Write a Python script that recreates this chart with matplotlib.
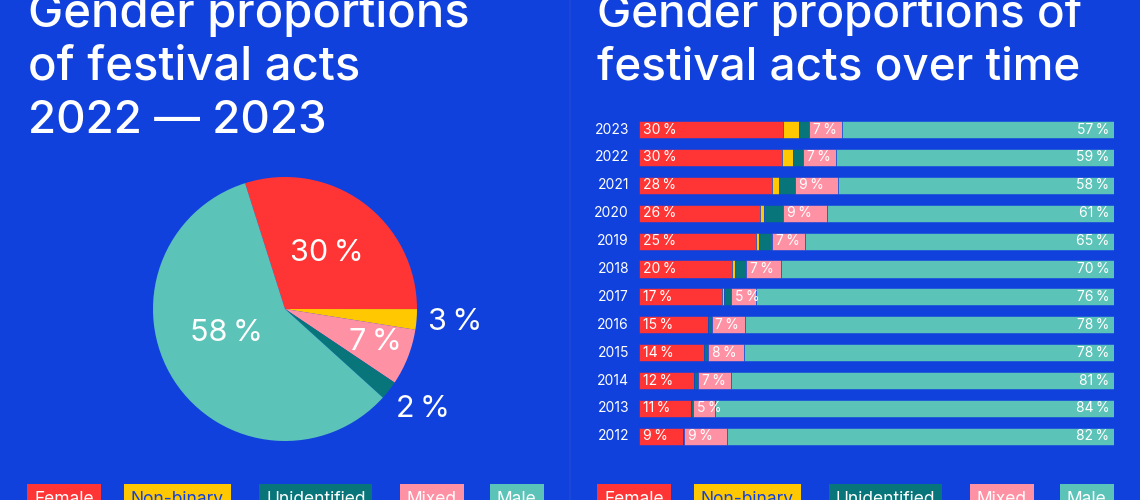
import matplotlib
matplotlib.use("Agg")
import matplotlib.pyplot as plt
import numpy as np

# ---------------- data ----------------
categories = ["Female", "Non-binary", "Unidentified", "Mixed", "Male"]

# pie (2022-2023), drawn clockwise in this order
pie_order = ["Female", "Non-binary", "Mixed", "Unidentified", "Male"]
pie_values = [29.9, 2.5, 6.9, 2.3, 58.4]
pie_labels = ["30\u2009%", "3\u2009%", "7\u2009%", "2\u2009%", "58\u2009%"]

years = ["2023", "2022", "2021", "2020", "2019", "2018", "2017",
         "2016", "2015", "2014", "2013", "2012"]
female = [30.4, 30.2, 28.0, 25.4, 24.6, 19.5, 17.5, 14.5, 13.6, 11.5, 11.0, 9.2]
nonbinary = [3.2, 2.2, 1.4, 1.0, 0.6, 0.7, 0.4, 0.0, 0.0, 0.0, 0.0, 0.0]
unidentified = [2.2, 2.1, 3.4, 4.0, 2.9, 2.3, 1.5, 0.8, 0.9, 1.0, 0.4, 0.3]
mixed = [7.0, 6.9, 9.1, 9.1, 6.8, 7.4, 5.3, 7.1, 7.7, 6.8, 4.6, 9.0]
male = [57.2, 58.6, 58.1, 60.5, 65.1, 70.1, 75.3, 77.6, 77.8, 80.7, 84.0, 81.5]
female_lbl = ["30", "30", "28", "26", "25", "20", "17", "15", "14", "12", "11", "9"]
mixed_lbl = ["7", "7", "9", "9", "7", "7", "5", "7", "8", "7", "5", "9"]
male_lbl = ["57", "59", "58", "61", "65", "70", "76", "78", "78", "81", "84", "82"]

# ---------------- style ----------------
BG = "#1141DD"
COL = {"Female": "#FF3535", "Non-binary": "#FFC800", "Unidentified": "#08757A",
       "Mixed": "#FF91A4", "Male": "#5CC3B8"}
FONT = ["Inter", "DejaVu Sans"]
plt.rcParams["font.family"] = FONT

W, H = 1140, 500
fig = plt.figure(figsize=(W / 100, H / 100), dpi=100, facecolor=BG)


def fx(px):
    return px / W


def fy(py):
    return 1 - py / H


def axes_px(left, top, width, height):
    return fig.add_axes([fx(left), fy(top + height), width / W, height / H])


# divider
fig.add_artist(plt.Line2D([fx(569.5), fx(569.5)], [0, 1], color="#1C49D8", lw=1.2,
                          transform=fig.transFigure))

# titles
title_kw = dict(color="white", fontweight="medium", va="baseline",
                ha="left", transform=fig.transFigure)
left_title = ["Gender proportions", "of festival acts", "2022 \u2014 2023"]
left_sizes = [34, 34, 33]
for i, (line, fs) in enumerate(zip(left_title, left_sizes)):
    fig.text(fx(28), fy(27 + 53 * i), line, fontsize=fs, **title_kw)
for i, line in enumerate(["Gender proportions of", "festival acts over time"]):
    fig.text(fx(597), fy(27 + 53 * i), line, fontsize=33, **title_kw)

# ---------------- pie ----------------
R = 132
cx, cy = 285, 309
axp = axes_px(cx - R, cy - R, 2 * R, 2 * R)
axp.set_facecolor("none")
wedges, _ = axp.pie(pie_values, colors=[COL[c] for c in pie_order], startangle=107.6,
                    counterclock=False, radius=1,
                    wedgeprops=dict(linewidth=0, antialiased=True))
axp.set_xlim(-1, 1)
axp.set_ylim(-1, 1)
axp.set_aspect("equal")
axp.axis("off")
label_r = [0.53, 1.29, 0.73, 1.29, 0.48]
angle_adj = [0, 0, 1.2, 2.0, -10]
for w, lab, r, da in zip(wedges, pie_labels, label_r, angle_adj):
    ang = np.deg2rad((w.theta1 + w.theta2) / 2 + da)
    axp.text(r * np.cos(ang), r * np.sin(ang), lab, color="white", fontsize=22,
             ha="center", va="center")

# ---------------- stacked bars ----------------
bx0, bx1 = 639, 1114
row0, step = 129.5, 27.9
axb = axes_px(bx0, row0 - step / 2, bx1 - bx0, step * len(years))
axb.set_facecolor("none")
n = len(years)
y = np.arange(n)
left = np.zeros(n)
series = [female, nonbinary, unidentified, mixed, male]
starts = {}
for name, vals in zip(categories, series):
    vals = np.array(vals)
    starts[name] = left.copy()
    axb.barh(y, vals, left=left, height=0.61, color=COL[name],
             edgecolor=BG, linewidth=0.4)
    left = left + vals
axb.set_xlim(0, left.max())
axb.set_ylim(n - 0.5, -0.5)
axb.axis("off")

txt_kw = dict(color="white", fontsize=10, va="center")
for i in range(n):
    axb.text(-2.1, i, years[i], ha="right", **txt_kw)
    axb.text(starts["Female"][i] + 0.8, i, female_lbl[i] + "\u2009%", ha="left", **txt_kw)
    axb.text(starts["Mixed"][i] + 0.8, i, mixed_lbl[i] + "\u2009%", ha="left", **txt_kw)
    axb.text(left[i] - 1.0, i, male_lbl[i] + "\u2009%", ha="right", **txt_kw)

# ---------------- legends (bottom, partly cut) ----------------
leg_x = [34, 131, 266, 407, 497]
for off in (0, 570):
    for name, lx in zip(categories, leg_x):
        tc = BG if name == "Non-binary" else "white"
        fig.text(fx(lx + off), fy(504), name, color=tc, fontsize=12.5,
                 ha="left", va="baseline",
                 bbox=dict(boxstyle="square,pad=0.4", fc=COL[name], ec="none"))

fig.savefig("out.png", dpi=100, facecolor=BG)
